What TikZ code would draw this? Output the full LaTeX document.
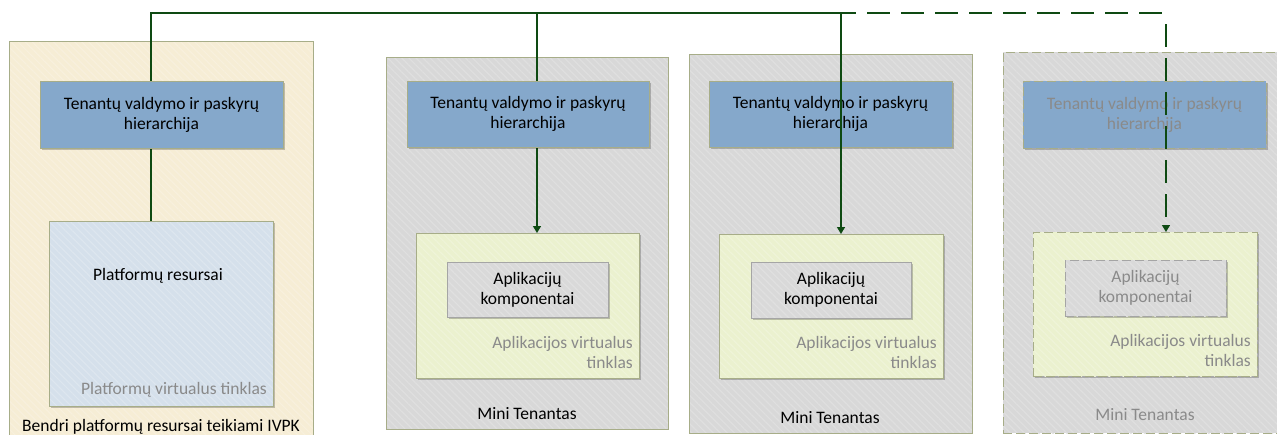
\documentclass[tikz,border=0pt]{standalone}
\usepackage{fontspec}
\setmainfont{Carlito}
\usetikzlibrary{arrows.meta,patterns.meta,shadows}

\definecolor{edge}{HTML}{A7AD88}
\definecolor{cream}{HTML}{F6EDD5}
\definecolor{hierblue}{HTML}{85A8CB}
\definecolor{platblue}{HTML}{D5E0EB}
\definecolor{panelgray}{HTML}{D8D8D8}
\definecolor{netgreen}{HTML}{EBF1CF}
\definecolor{compgray}{HTML}{D9D9D9}
\definecolor{compedge}{HTML}{A5A5A5}
\definecolor{linkgreen}{HTML}{0E4A12}
\definecolor{softtext}{HTML}{8A8A8A}

\pgfdeclarelayer{back}
\pgfdeclarelayer{mid}
\pgfsetlayers{back,mid,main}

\begin{document}
\begin{tikzpicture}[x=1pt,y=-1pt,
  font=\fontsize{17.5}{20}\selectfont,
  box/.style={anchor=north west,inner sep=0pt,outer sep=0pt,line width=0.9pt},
  % fill with a faint diagonal texture, drawn before the border
  textured/.style={preaction={fill=#1},
      preaction={pattern={Lines[angle=-45,distance=5pt,line width=1.2pt]},
      pattern color=#1!82!white}},
  shade/.style={drop shadow={shadow xshift=1.5pt,shadow yshift=-1.5pt,opacity=0.22,fill=black}},
  panel/.style={box,draw=edge},
  hierbox/.style={box,draw=edge,shade,fill=hierblue,align=center},
  netbox/.style={box,draw=edge,shade,textured=netgreen},
  compbox/.style={box,draw=compedge,shade,textured=compgray,align=center},
  ghost/.style={dash pattern=on 9pt off 4pt},
  soft/.style={text=softtext},
  txt/.style={inner sep=0pt},
  link/.style={draw=linkgreen,line width=1.4pt},
  tip/.style={-{Triangle[width=8pt,length=7pt]}}
]
\useasboundingbox (0,0) rectangle (1277,434);

% ---- outer containers
\begin{pgfonlayer}{back}
  \node[panel,textured=cream,minimum width=304,minimum height=420] (p1) at (9,41) {};
  \node[panel,textured=panelgray,minimum width=282,minimum height=372] (p2) at (386,57) {};
  \node[panel,textured=panelgray,minimum width=283,minimum height=379] (p3) at (689,54) {};
  \node[panel,ghost,textured=panelgray,minimum width=290,minimum height=381] (p4) at (1003,52) {};
\end{pgfonlayer}

% ---- shared platform column
\node[hierbox,minimum width=243,minimum height=67] (h1) at (40,81)
  {Tenantų valdymo ir paskyrų\\hierarchija};
\node[box,draw=edge,shade,textured=platblue,minimum width=224,minimum height=185] (plat) at (49,221) {};
\node[txt] (platlbl) at (158,276) {Platformų resursai};
\node[txt,soft,anchor=east] (platnet) at (267,390) {Platformų virtualus tinklas};
\node[txt] (p1lbl) at (161,427) {Bendri platformų resursai teikiami IVPK};

% ---- tenant 2
\node[hierbox,minimum width=242,minimum height=66] (h2) at (407,81)
  {Tenantų valdymo ir paskyrų\\hierarchija};
\node[netbox,minimum width=223,minimum height=145] (g2) at (416,233) {};
\node[compbox,minimum width=161,minimum height=55] (c2) at (447,262)
  {Aplikacijų\\komponentai};
\node[txt,soft,anchor=east,align=right] (n2) at (633,352) {Aplikacijos virtualus\\tinklas};
\node[txt] (p2lbl) at (527,414) {Mini Tenantas};

% ---- tenant 3
\node[hierbox,minimum width=243,minimum height=66] (h3) at (709,81)
  {Tenantų valdymo ir paskyrų\\hierarchija};
\node[netbox,minimum width=224,minimum height=144] (g3) at (719,234) {};
\node[compbox,minimum width=160,minimum height=56] (c3) at (751,262)
  {Aplikacijų\\komponentai};
\node[txt,soft,anchor=east,align=right] (n3) at (937,352) {Aplikacijos virtualus\\tinklas};
\node[txt] (p3lbl) at (830,418) {Mini Tenantas};

% ---- planned tenant (dashed)
\node[hierbox,ghost,text=softtext,minimum width=243,minimum height=67] (h4) at (1023,81)
  {Tenantų valdymo ir paskyrų\\hierarchija};
\node[netbox,ghost,minimum width=224,minimum height=144] (g4) at (1033,232) {};
\node[compbox,ghost,text=softtext,minimum width=161,minimum height=56] (c4) at (1065,260)
  {Aplikacijų\\komponentai};
\node[txt,soft,anchor=east,align=right] (n4) at (1251,350) {Aplikacijos virtualus\\tinklas};
\node[txt,soft] (p4lbl) at (1145,415) {Mini Tenantas};

% ---- connector junctions on the top bus
\coordinate (hub) at (151,13);
\coordinate (j2) at (537,13);
\coordinate (j3) at (841,13);
\coordinate (send) at (856,13);
\coordinate (dstart) at (867,13);
\coordinate (dend) at (1165,13);
\coordinate (j4) at (1166,24);

% links hidden behind the hierarchy boxes
\begin{pgfonlayer}{mid}
  \draw[link] (hub |- plat.north) -- (hub) -- (send);
  \draw[link,tip] (j2) -- (j2 |- g2.north);
\end{pgfonlayer}

% links crossing over the hierarchy boxes
\draw[link,tip] (j3) -- (j3 |- g3.north);
\draw[link,dash pattern=on 23pt off 11pt] (dstart) -- (dend);
\draw[link,tip,dash pattern=on 23pt off 11pt] (j4) -- (j4 |- g4.north);
\end{tikzpicture}
\end{document}
